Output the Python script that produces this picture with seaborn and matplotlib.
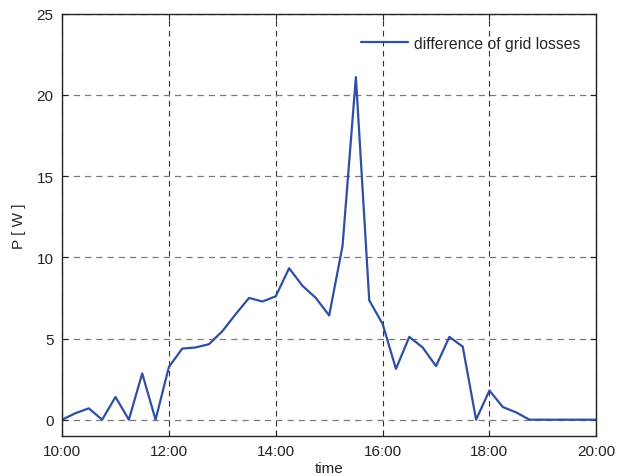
import numpy as np
import pandas as pd
import seaborn as sns
import matplotlib.pyplot as plt

# data (15 min steps, 10:00 - 20:00)
hours = [10 + 0.25 * i for i in range(41)]
losses = [0, 0.4, 0.7, 0, 1.4, 0, 2.85, 0, 3.25, 4.38,
          4.45, 4.65, 5.45, 6.5, 7.5, 7.28, 7.6, 9.33, 8.25, 7.5,
          6.42, 10.7, 21.1, 7.35, 5.9, 3.13, 5.1, 4.45, 3.3, 5.1,
          4.5, 0, 1.8, 0.78, 0.45, 0, 0, 0, 0, 0, 0]
tick_hours = [10, 12, 14, 16, 18, 20]
tick_labels = ["10:00", "12:00", "14:00", "16:00", "18:00", "20:00"]
y_ticks = [0, 5, 10, 15, 20, 25]

df = pd.DataFrame({"time": hours, "P": losses})

sns.set_theme(style="white")
plt.rcParams['font.family'] = ['Liberation Sans', 'DejaVu Sans']

fig = plt.figure(figsize=(6.27, 4.77), dpi=100)
ax = fig.add_axes([0.099, 0.084, 0.852, 0.885])

sns.lineplot(data=df, x="time", y="P", ax=ax, color="#2E4FA3", linewidth=1.6,
             label="difference of grid losses")

ax.set_xlim(10, 20)
ax.set_ylim(-1, 25)
ax.set_xticks(tick_hours)
ax.set_xticklabels(tick_labels)
ax.set_yticks(y_ticks)
ax.tick_params(direction="in", length=4, width=0.8, colors="#222222",
               labelsize=11, bottom=True, left=True, top=True, right=True,
               pad=6)
ax.xaxis.grid(True, linestyle=(0, (5, 4)), color="#333333", linewidth=0.8)
ax.yaxis.grid(True, linestyle=(0, (5, 4)), color="#7a7a7a", linewidth=0.9)
for s in ax.spines.values():
    s.set_color("#222222")
    s.set_linewidth(1.0)

ax.set_xlabel("time", fontsize=11, labelpad=2)
ax.set_ylabel("P [ W ]", fontsize=11, labelpad=8)

ax.legend(loc="upper right", bbox_to_anchor=(1.0, 0.985), frameon=False,
          fontsize=11.3, handlelength=3.0, handletextpad=0.4,
          borderaxespad=0.6)

plt.savefig("out.png", dpi=100)
